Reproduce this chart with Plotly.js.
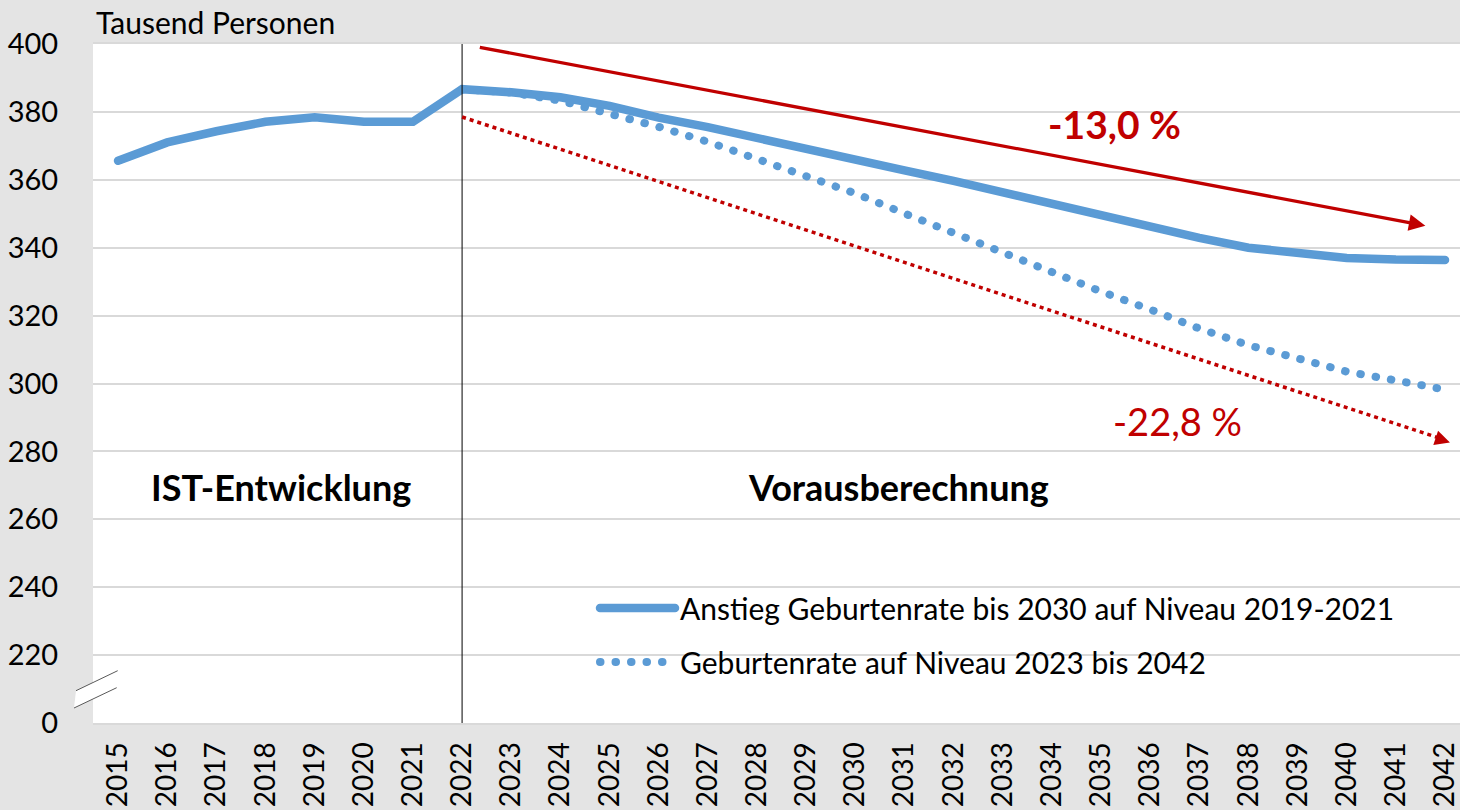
<!DOCTYPE html>
<html>
<head>
<meta charset="utf-8">
<script src="https://cdn.plot.ly/plotly-3.0.1.min.js"></script>
<style>
html,body{margin:0;padding:0;overflow:hidden;background:#e4e4e4;}
#chart{width:1460px;height:810px;}
path.js-line{stroke-linecap:round !important;}
</style>
</head>
<body>
<div id="chart"></div>
<script>
const years = [2015,2016,2017,2018,2019,2020,2021,2022,2023,2024,2025,2026,2027,2028,2029,2030,2031,2032,2033,2034,2035,2036,2037,2038,2039,2040,2041,2042];
const anstiegValues = [365.6,371.0,374.3,377.1,378.4,377.1,377.1,386.7,385.8,384.3,381.8,378.3,375.5,372.2,368.8,365.9,362.8,359.7,356.3,352.9,349.1,346.2,342.9,340.0,338.2,337.0,336.5,336.4];
const niveauValues = [null,null,null,null,null,null,null,386.7,385.7,383.3,379.6,375.6,371.2,366.3,361.0,356.0,350.1,344.4,338.2,332.6,327.1,321.8,316.2,311.3,307.4,303.5,300.9,298.2];
const seriesNames = ["Anstieg Geburtenrate bis 2030 auf Niveau 2019-2021","Geburtenrate auf Niveau 2023 bis 2042"];
const yTickValues = [200,220,240,260,280,300,320,340,360,380,400];
const yTickLabels = ["0","220","240","260","280","300","320","340","360","380","400"];
const changeLabels = ["-13,0 %","-22,8 %"];
const phaseLabels = ["IST-Entwicklung","Vorausberechnung"];
const unitLabel = "Tausend Personen";

const blue = "#5b9bd5";
const red = "#c00000";
const FONT = "Lato, 'Open Sans', sans-serif";

const L = 93, T = 44, W = 1367, H = 679;
const px = x => (x - L) / W;
const py = y => (T + H - y) / H;

const traces = [
  {x: years, y: anstiegValues, name: seriesNames[0], type: "scatter", mode: "lines",
   line: {color: blue, width: 8.5}, legendgroup: "a", hoverinfo: "skip"},
  {x: years, y: niveauValues, name: seriesNames[1], type: "scatter", mode: "lines",
   line: {color: blue, width: 8, dash: "0.5px,15px"}, legendgroup: "b", hoverinfo: "skip"}
];

const breakPath = "M" + px(76) + "," + py(690.7) + " L" + px(117.7) + "," + py(670.7) +
  " L" + px(116.7) + "," + py(687.7) + " L" + px(74) + "," + py(708) + " Z";

const layout = {
  width: 1460, height: 810,
  margin: {l: L, r: 0, t: T, b: 810 - T - H},
  paper_bgcolor: "#e4e4e4",
  plot_bgcolor: "#ffffff",
  font: {family: FONT, size: 29, color: "#000000"},
  showlegend: true,
  legend: {x: px(595), y: py(582), xanchor: "left", yanchor: "top",
           bgcolor: "rgba(0,0,0,0)", font: {family: FONT, size: 30, color: "#000"},
           itemwidth: 75, traceorder: "grouped", tracegroupgap: 12},
  xaxis: {type: "linear", range: [2014.49, 2042.305], tickmode: "array", tickvals: years,
          ticktext: years.map(String), tickangle: -90, showgrid: false, zeroline: false,
          showline: true, mirror: true, linecolor: "#d9d9d9", linewidth: 2,
          ticks: "outside", ticklen: 6, tickcolor: "rgba(0,0,0,0)", ticklabeloverflow: "allow",
          tickfont: {family: FONT, size: 28, color: "#000"}},
  yaxis: {range: [200, 400], tickmode: "array", tickvals: yTickValues, ticktext: yTickLabels,
          showgrid: true, gridcolor: "#d9d9d9", gridwidth: 2, zeroline: false, showline: false,
          ticks: "outside", ticklen: 28, tickcolor: "rgba(0,0,0,0)",
          tickfont: {family: FONT, size: 29, color: "#000"}},
  shapes: [
    {type: "line", xref: "x", yref: "paper", x0: 2022, x1: 2022, y0: 0, y1: 1,
     line: {color: "#000000", width: 1}},
    {type: "line", xref: "x", yref: "y", x0: 2022.0, y0: 378.5, x1: 2041.95, y1: 283.6,
     line: {color: red, width: 3.5, dash: "4px,4px"}},
    {type: "path", xref: "paper", yref: "paper", path: breakPath,
     fillcolor: "#ffffff", line: {width: 0}},
    {type: "line", xref: "paper", yref: "paper", x0: px(76), y0: py(690.7), x1: px(117.7), y1: py(670.7),
     line: {color: "#595959", width: 1}},
    {type: "line", xref: "paper", yref: "paper", x0: px(74), y0: py(708), x1: px(116.7), y1: py(687.7),
     line: {color: "#595959", width: 1}}
  ],
  annotations: [
    {xref: "x", yref: "y", axref: "x", ayref: "y", x: 2041.6, y: 346.5, ax: 2022.33, ay: 399.1,
     showarrow: true, arrowhead: 2, arrowsize: 1, arrowwidth: 3.3, arrowcolor: red, text: ""},
    {xref: "x", yref: "y", x: 2042.1, y: 282.6, ax: -15, ay: -5,
     showarrow: true, arrowhead: 2, arrowsize: 1, arrowwidth: 3, arrowcolor: red, text: ""},
    {xref: "x", yref: "y", x: 2035.28, y: 376.5, text: "<b>" + changeLabels[0] + "</b>", showarrow: false,
     font: {family: FONT, size: 39, color: red}},
    {xref: "x", yref: "y", x: 2036.55, y: 289.1, text: changeLabels[1], showarrow: false,
     font: {family: FONT, size: 38, color: red}},
    {xref: "x", yref: "y", x: 2018.32, y: 269.4, text: "<b>" + phaseLabels[0] + "</b>", showarrow: false,
     font: {family: FONT, size: 36, color: "#000"}},
    {xref: "x", yref: "y", x: 2030.87, y: 269.4, text: "<b>" + phaseLabels[1] + "</b>", showarrow: false,
     font: {family: FONT, size: 36, color: "#000"}},
    {xref: "paper", yref: "paper", x: px(94), y: py(22), xanchor: "left", yanchor: "middle",
     text: unitLabel, showarrow: false, font: {family: FONT, size: 30, color: "#000"}}
  ]
};

Plotly.newPlot("chart", traces, layout, {displayModeBar: false, staticPlot: true});
</script>
</body>
</html>
